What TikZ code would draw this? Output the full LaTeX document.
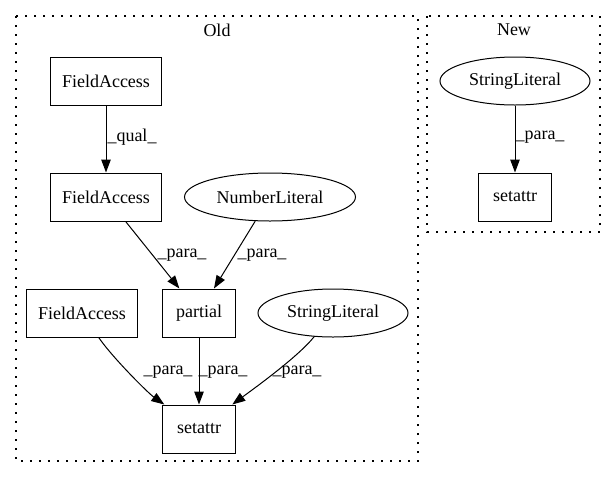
\documentclass[tikz,border=0pt]{standalone}
\usepackage{fontspec}
\setmainfont{Liberation Serif}
\usepackage{tikz}
\usetikzlibrary{shapes, arrows.meta, positioning, calc}

\begin{document}
\begin{tikzpicture}[x=1pt, y=-1pt, line width=1pt,
	every node/.style={font=\fontsize{18}{21}\selectfont},
	box/.style={draw, rectangle, inner sep=0pt, minimum width=73pt, minimum height=48pt},
	wbox/.style={box, minimum width=111pt},
	oval/.style={draw, ellipse, inner sep=0pt, minimum height=48pt},
	cluster/.style={line width=1.1pt, dash pattern=on 1.8pt off 7.2pt},
	edge/.style={-{Triangle[length=13pt, width=9.5pt]}}]
	\useasboundingbox (0,0) rectangle (616,480);

	% clusters
	\draw [cluster] (16,16) rectangle (418,461);
	\node (oldlbl) at (217,30) {Old};
	\draw [cluster] (427,16) rectangle (600,232);
	\node (newlbl) at (514,30) {New};

	% old
	\node [wbox] (fa1) at (106,81) {FieldAccess};
	\node [wbox] (fa2) at (106,197) {FieldAccess};
	\node [oval, minimum width=171pt] (numlit) at (270,197) {NumberLiteral};
	\node [wbox] (fa3) at (82,313) {FieldAccess};
	\node [box] (partial) at (199,313) {partial};
	\node [oval, minimum width=150pt] (strlit) at (333,313) {StringLiteral};
	\node [box] (setattr) at (199,429) {setattr};

	\draw [edge] (fa1) -- (fa2);
	\draw [edge] (fa2) -- (partial);
	\draw [edge] (numlit) -- (partial);
	\draw [edge] (fa3) .. controls (112,357) and (148,393) .. (setattr);
	\draw [edge] (partial) -- (setattr);
	\draw [edge] (strlit) .. controls (298,357) and (252,390) .. (setattr);

	\node (qual) at (132,137) {\_qual\_};
	\node (p1) at (182,255) {\_para\_};
	\node (p2) at (262,255) {\_para\_};
	\node (p3) at (168,372) {\_para\_};
	\node (p4) at (223,372) {\_para\_};
	\node (p5) at (297,372) {\_para\_};

	% new
	\node [oval, minimum width=150pt] (newstr) at (515,81) {StringLiteral};
	\node [box] (newset) at (515,197) {setattr};
	\draw [edge] (newstr) -- (newset);
	\node (p6) at (540,137) {\_para\_};
\end{tikzpicture}
\end{document}
